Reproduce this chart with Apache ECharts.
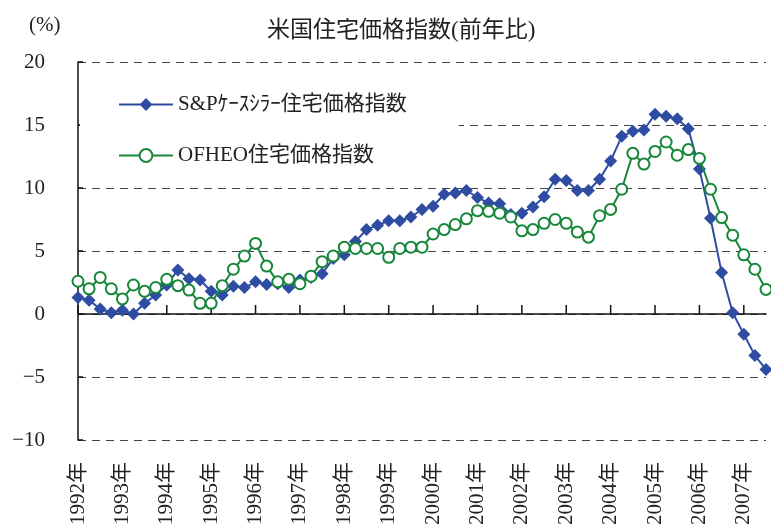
<!DOCTYPE html>
<html>
<head>
<meta charset="utf-8">
<script src="https://cdn.jsdelivr.net/npm/echarts@6/dist/echarts.min.js"></script>
<style>html,body{margin:0;padding:0;background:#fff;}#c{width:771px;height:532px;}</style>
</head>
<body>
<div id="c"></div>
<script>
// Quarterly, 1992 Q1 - 2007 Q3
var years = [1992,1993,1994,1995,1996,1997,1998,1999,2000,2001,2002,2003,2004,2005,2006,2007];
var quarters = [];
years.forEach(function(y){ for (var q=1;q<=4;q++){ if (y===2007 && q>3) break; quarters.push(y+'Q'+q); } });

var caseShiller = [1.3,1.1,0.4,0.1,0.3,0.0,0.85,1.5,2.3,3.5,2.8,2.7,1.8,1.5,2.2,2.1,2.55,2.35,2.4,2.1,2.7,2.9,3.2,4.4,4.7,5.75,6.7,7.05,7.4,7.4,7.7,8.3,8.55,9.5,9.6,9.8,9.25,8.8,8.75,7.9,8.0,8.5,9.3,10.7,10.6,9.8,9.8,10.7,12.15,14.1,14.5,14.6,15.85,15.7,15.5,14.7,11.5,7.6,3.3,0.1,-1.6,-3.3,-4.4];
var ofheo = [2.6,2.0,2.9,2.0,1.2,2.3,1.8,2.1,2.75,2.25,1.9,0.85,0.85,2.25,3.55,4.6,5.6,3.8,2.55,2.75,2.4,3.0,4.15,4.6,5.3,5.2,5.2,5.2,4.5,5.2,5.3,5.3,6.35,6.7,7.1,7.55,8.2,8.15,8.0,7.7,6.6,6.7,7.2,7.5,7.2,6.5,6.1,7.8,8.3,9.9,12.75,11.9,12.9,13.65,12.6,13.05,12.35,9.9,7.65,6.25,4.7,3.55,1.95];
var yTicks = [-10,-5,0,5,10,15,20];

// year-start categories (tick marks on the zero line)
var yearStarts = quarters.filter(function(q){ return /Q1$/.test(q); });

var seriesNames = ['S&Pｹｰｽｼﾗｰ住宅価格指数','OFHEO住宅価格指数'];
var FONT = '"Liberation Serif", "Noto Sans CJK JP", serif';
var yMin = yTicks[0], yMax = yTicks[yTicks.length-1];

var chart = echarts.init(document.getElementById('c'));
chart.setOption({
  backgroundColor: '#fff',
  animation: false,
  title: [
    {text: '米国住宅価格指数(前年比)', left: 262, top: 14,
     textStyle: {fontFamily: FONT, fontSize: 23, fontWeight: 'normal', color: '#222'}},
    {text: '(%)', left: 24, top: 10,
     textStyle: {fontFamily: FONT, fontSize: 21, fontWeight: 'normal', color: '#222'}}
  ],
  legend: {
    data: seriesNames,
    orient: 'vertical',
    left: 80, top: 82,
    padding: [12, 52, 12, 38],
    itemGap: 30,
    itemWidth: 54, itemHeight: 16,
    backgroundColor: '#fff',
    textStyle: {fontFamily: FONT, fontSize: 21, color: '#222'}
  },
  grid: {left: 78, right: 5, top: 62, bottom: 92, containLabel: false},
  xAxis: [
    {type: 'category', data: quarters, boundaryGap: false, position: 'bottom',
     axisLine: {show: true, onZero: true, lineStyle: {color: '#111', width: 1.5}},
     axisTick: {show: false},
     axisLabel: {show: false}, splitLine: {show: false}},
    {type: 'category', data: quarters, boundaryGap: false, position: 'bottom',
     axisLine: {show: false, onZero: false}, axisTick: {show: false},
     axisLabel: {interval: 3, rotate: 90, margin: 22,
       fontFamily: FONT, fontSize: 21, color: '#222',
       formatter: function(v){ return v.slice(0,4) + '年'; }},
     splitLine: {show: false}}
  ],
  yAxis: {
    type: 'value', min: yMin, max: yMax, interval: 5,
    axisLine: {show: true, lineStyle: {color: '#111', width: 1.5}},
    axisTick: {show: true, inside: true, length: 5, lineStyle: {color: '#111', width: 1.5}},
    axisLabel: {margin: 33, fontFamily: FONT, fontSize: 21, color: '#222',
      formatter: function(v){ return String(v).replace('-', '−'); }},
    splitLine: {show: true, lineStyle: {color: '#444', width: 1, type: [8, 6]}}
  },
  series: [
    {name: 'ticks', type: 'custom', xAxisIndex: 0, yAxisIndex: 0, silent: true, z: 2,
     data: yearStarts.map(function(q){ return [q, 0]; }),
     renderItem: function(params, api){
       var p = api.coord([api.value(0), 0]);
       return {type: 'line', shape: {x1: p[0], y1: p[1], x2: p[0], y2: p[1] - 9},
               style: {stroke: '#111', lineWidth: 1.5}};
     }},
    {name: seriesNames[0], type: 'line', data: caseShiller, xAxisIndex: 0, yAxisIndex: 0,
     symbol: 'diamond', symbolSize: 13, showAllSymbol: true, z: 3,
     lineStyle: {color: '#2E4CA2', width: 2},
     itemStyle: {color: '#2E4CA2'}},
    {name: seriesNames[1], type: 'line', data: ofheo, xAxisIndex: 0, yAxisIndex: 0,
     symbol: 'emptyCircle', symbolSize: 11, showAllSymbol: true, z: 4,
     lineStyle: {color: '#17873A', width: 2},
     itemStyle: {color: '#17873A', borderColor: '#17873A', borderWidth: 2}}
  ]
});
</script>
</body>
</html>
